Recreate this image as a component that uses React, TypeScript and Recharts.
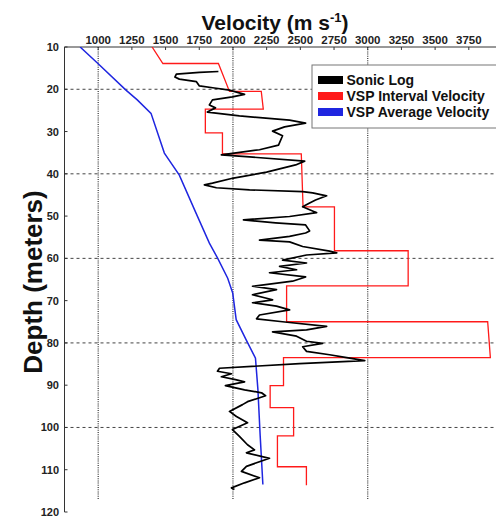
import React from 'react';
import { ScatterChart, Scatter, XAxis, YAxis, ReferenceLine } from 'recharts';

// Sonic log (black): depth (m) / velocity (m/s)
const SONIC_DEPTH = [
  15.8, 16.0, 16.4, 17.1, 17.6, 18.2, 19.2, 19.7, 20.2, 21.2, 21.8, 22.5, 23.7, 24.4, 25.4,
  26.3, 27.3, 28.0, 28.9, 29.9, 31.0, 33.2, 34.3, 35.5, 36.0, 37.0, 37.9, 39.6, 41.0, 42.2,
  42.6, 43.3, 43.8, 44.2, 44.5, 45.2, 46.2, 46.9, 47.8, 49.2, 50.1, 50.9, 51.6, 52.1, 53.5,
  54.0, 54.8, 55.7, 56.1, 57.2, 58.3, 58.7, 59.2, 60.4, 61.1, 61.9, 62.7, 63.4, 64.4, 65.4,
  66.6, 67.4, 68.6, 69.8, 70.5, 71.3, 72.2, 73.4, 74.3, 75.0, 76.1, 76.9, 77.4, 78.4, 79.6,
  80.1, 80.9, 82.0, 82.8, 83.5, 84.2, 84.9, 86.0, 86.7, 87.3, 88.0, 88.7, 89.2, 90.1, 91.1,
  91.8, 92.5, 93.9, 94.6, 96.2, 97.4, 98.9, 100.5, 102.1, 104.1, 105.3, 106.0, 107.3, 109.2,
  110.4, 111.9, 113.1, 114.3, 114.7,
];
const SONIC_VEL = [
  1892, 1751, 1580, 1569, 1602, 1729, 1751, 1862, 1974, 2086, 1996, 1848, 1825, 1870, 1810,
  2048, 2420, 2539, 2383, 2294, 2368, 2338, 2197, 1914, 2123, 2532, 2465, 2249, 2004, 1848,
  1788, 1877, 2123, 2517, 2591, 2695, 2613, 2569, 2517, 2621, 2420, 2078, 2316, 2539, 2569,
  2539, 2420, 2197, 2420, 2517, 2717, 2770, 2546, 2368, 2546, 2346, 2472, 2271, 2539, 2442,
  2145, 2323, 2145, 2294, 2145, 2323, 2420, 2197, 2175, 2368, 2695, 2546, 2294, 2472, 2546,
  2665, 2517, 2546, 2717, 2844, 2978, 2494, 1900, 1885, 1989, 1914, 2019, 2086, 1944, 2086,
  2212, 2242, 2108, 2071, 1974, 2026, 2108, 1996, 2048, 2108, 2160, 2100, 2271, 2100,
  2063, 2197, 2086, 1989, 2011,
];

// VSP interval velocity (red), corner points of the step trace
const INTERVAL_DEPTH = [
  10, 13.9, 13.9, 20.5, 20.5, 24.7, 24.7, 30.3, 30.3, 35.3, 35.3, 47.8, 47.8, 58.2, 58.2,
  66.5, 66.5, 75.0, 75.0, 83.5, 83.5, 90.1, 90.1, 95.3, 95.3, 102.0, 102.0, 109.3, 109.3, 113.7,
];
const INTERVAL_VEL = [
  1400, 1480, 1892, 1974, 2210, 2225, 1795, 1795, 1922, 1922, 2507, 2520, 2753, 2753, 3300,
  3300, 2398, 2398, 3890, 3910, 2375, 2375, 2276, 2276, 2450, 2450, 2330, 2330, 2545, 2545,
];

// VSP average velocity (blue)
const AVERAGE_DEPTH = [10, 13.9, 20.2, 22.5, 25.7, 35.1, 40.3, 49.3, 56.4, 60, 64.7, 68.2, 74.5, 79.3, 83.6, 91, 102, 113.5];
const AVERAGE_VEL = [866, 998, 1206, 1290, 1392, 1491, 1602, 1726, 1825, 1887, 1961, 1998, 2024, 2098, 2167, 2185, 2202, 2222];

const VEL_TICKS = [750, 1000, 1250, 1500, 1750, 2000, 2250, 2500, 2750, 3000, 3250, 3500, 3750, 4000];
const DEPTH_TICKS = [10, 20, 30, 40, 50, 60, 70, 80, 90, 100, 110, 120];
const H_GRID = [20, 40, 60, 80, 100];
const V_GRID = [1000, 2000, 3000];

const LEGEND = [
  { name: 'Sonic Log', color: '#000000' },
  { name: 'VSP Interval Velocity', color: '#ff1a1a' },
  { name: 'VSP Average Velocity', color: '#1f26e0' },
];

const sonic = SONIC_DEPTH.map((d, i) => ({ d, v: SONIC_VEL[i] }));
const interval = INTERVAL_DEPTH.map((d, i) => ({ d, v: INTERVAL_VEL[i] }));
const average = AVERAGE_DEPTH.map((d, i) => ({ d, v: AVERAGE_VEL[i] }));

const FONT = '"Liberation Sans", Arial, sans-serif';
const PLOT_TOP = 47;
const PLOT_BOTTOM = 512;
const PLOT_LEFT = 64.5;

const noDot = () => <g />;

const TopTick = ({ x, payload }: any) => {
  const v = payload.value;
  return (
    <g>
      <line x1={x} x2={x} y1={PLOT_TOP} y2={PLOT_TOP + 3} stroke="#333" />
      {v >= 1000 && v <= 3750 && (
        <text x={x} y={PLOT_TOP - 3} textAnchor="middle" fontFamily={FONT} fontWeight="bold" fontSize={11.5} fill="#222">
          {v}
        </text>
      )}
    </g>
  );
};

const BottomTick = ({ x }: any) => (
  <line x1={x} x2={x} y1={PLOT_BOTTOM} y2={PLOT_BOTTOM - 3} stroke="#333" />
);

const DepthTick = ({ y, payload }: any) => (
  <g>
    <line x1={PLOT_LEFT} x2={PLOT_LEFT + 3} y1={y} y2={y} stroke="#333" />
    <text x={59} y={y + 4} textAnchor="end" fontFamily={FONT} fontWeight="bold" fontSize={11} fill="#222">
      {payload.value}
    </text>
  </g>
);

export default function App() {
  return (
    <div style={{ position: 'fixed', left: 0, top: 0, width: 496, height: 522, overflow: 'hidden', background: '#fff' }}>
      <ScatterChart width={530} height={522} margin={{ top: 17, right: 27.5, bottom: 10, left: 24.5 }}>
        <XAxis
          xAxisId="top" orientation="top" type="number" dataKey="v"
          domain={[750, 4000]} ticks={VEL_TICKS} allowDataOverflow interval={0}
          height={30} tickLine={false} tick={<TopTick />}
          axisLine={{ stroke: '#333' }}
        />
        <XAxis
          xAxisId="bottom" orientation="bottom" type="number" dataKey="v"
          domain={[750, 4000]} ticks={VEL_TICKS} allowDataOverflow interval={0}
          height={0} tickLine={false} tick={<BottomTick />}
          axisLine={{ stroke: '#333' }}
        />
        <YAxis
          yAxisId="depth" type="number" dataKey="d" reversed
          domain={[10, 120]} ticks={DEPTH_TICKS} allowDataOverflow interval={0}
          width={40} tickLine={false} tick={<DepthTick />}
          axisLine={{ stroke: '#333' }}
        />

        {H_GRID.map(d => (
          <ReferenceLine key={'h' + d} xAxisId="top" yAxisId="depth" y={d} stroke="#444" strokeDasharray="3 3" />
        ))}
        {V_GRID.map(v => (
          <ReferenceLine
            key={'v' + v} xAxisId="top" yAxisId="depth"
            segment={[{ x: v, y: 10 }, { x: v, y: 117 }]}
            stroke="#333" strokeWidth={1.2} strokeDasharray="1 1.2"
          />
        ))}

        <Scatter
          data={average} xAxisId="top" yAxisId="depth" fill="#1f26e0"
          line={{ stroke: '#1f26e0', strokeWidth: 1.5 }} lineType="joint"
          shape={noDot} isAnimationActive={false}
        />
        <Scatter
          data={interval} xAxisId="top" yAxisId="depth" fill="#ff1a1a"
          line={{ stroke: '#ff1a1a', strokeWidth: 1.3 }} lineType="joint"
          shape={noDot} isAnimationActive={false}
        />
        <Scatter
          data={sonic} xAxisId="top" yAxisId="depth" fill="#000"
          line={{ stroke: '#000', strokeWidth: 1.7, strokeLinejoin: 'round' }} lineType="joint"
          shape={noDot} isAnimationActive={false}
        />
      </ScatterChart>

      <svg width={496} height={522} style={{ position: 'absolute', left: 0, top: 0, pointerEvents: 'none' }}>
        <text x={275} y={29.5} textAnchor="middle" fontFamily={FONT} fontWeight="bold" fontSize={21} fill="#111">
          Velocity (m s<tspan fontSize={13} dy={-8}>-1</tspan><tspan dy={8}>)</tspan>
        </text>
        <text
          x={42} y={282} transform="rotate(-90, 42, 282)" textAnchor="middle"
          fontFamily={FONT} fontWeight="bold" fontSize={26} fill="#111"
        >
          Depth (meters)
        </text>

        <rect x={312} y={65} width={200} height={63} fill="#fff" stroke="#777" />
        {LEGEND.map((item, i) => (
          <g key={item.name}>
            <rect x={318} y={76 + i * 16} width={25} height={8} fill={item.color} />
            <text x={346.5} y={84.5 + i * 16} fontFamily={FONT} fontWeight="bold" fontSize={14} fill="#111">
              {item.name}
            </text>
          </g>
        ))}
      </svg>
    </div>
  );
}
